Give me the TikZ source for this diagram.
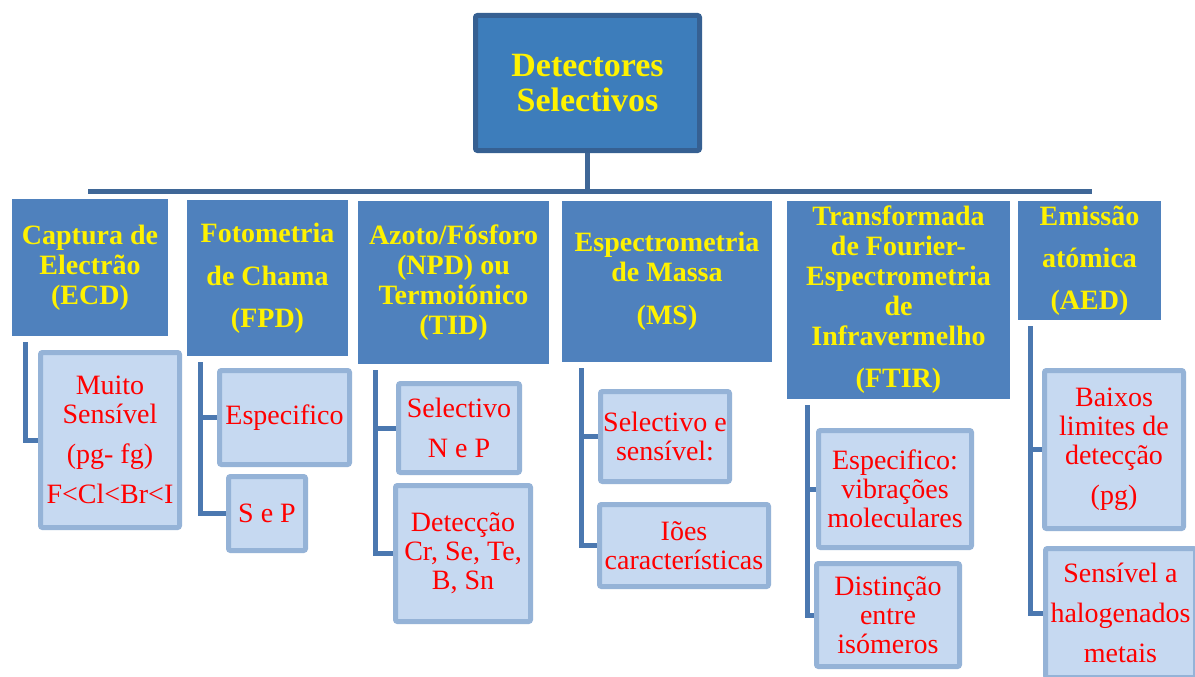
\documentclass[tikz,border=0pt]{standalone}
\usepackage{fontspec}
\setmainfont{Liberation Serif}
\definecolor{topfill}{RGB}{61,125,187}
\definecolor{topborder}{RGB}{54,96,146}
\definecolor{hdrfill}{RGB}{79,129,189}
\definecolor{leaffill}{RGB}{198,217,241}
\definecolor{leafborder}{RGB}{149,179,215}
\definecolor{buscol}{RGB}{63,103,151}
\definecolor{conncol}{RGB}{75,120,176}
\begin{document}
\begin{tikzpicture}[x=1pt,y=-1pt,
 topbox/.style={draw=topborder, line width=5pt, fill=topfill, rounded corners=2pt, text=yellow, font=\fontsize{34}{35}\selectfont\bfseries, align=center, inner sep=0pt},
 hdr/.style={fill=hdrfill, text=yellow, font=\fontsize{28}{30}\selectfont\bfseries, align=center, inner sep=0pt},
 leaf/.style={draw=leafborder, line width=5pt, fill=leaffill, rounded corners=2pt, text=red, font=\fontsize{28}{29}\selectfont, align=center, inner sep=0pt},
 bus/.style={draw=buscol, line width=5pt},
 conn/.style={draw=conncol, line width=5pt},
]
\useasboundingbox (0,0) rectangle (1195,677);
\clip (0,0) rectangle (1195,677);
\fill[white] (0,0) rectangle (1195,677);

% title
\node[topbox, minimum width=224pt, minimum height=135pt] (t) at (587.5,83) {Detectores\\Selectivos};

% bus
\coordinate (busL) at (88,191);
\coordinate (busR) at (1092,191);
\draw[bus] (busL) -- (busR);
\draw[bus] (t.south) -- (t.south |- busL);

% headers
\node[hdr, minimum width=156pt, minimum height=137pt] (h1) at (90,267.5) {Captura de\\Electrão\\(ECD)};
\node[hdr, minimum width=161pt, minimum height=156pt] (h2) at (267.5,278) {Fotometria\\[13pt]de Chama\\[12pt](FPD)};
\node[hdr, minimum width=191pt, minimum height=163pt] (h3) at (453.5,282.5) {Azoto/Fósforo\\(NPD) ou\\Termoiónico\\(TID)};
\node[hdr, minimum width=210pt, minimum height=161pt] (h4) at (667,281.5) {Espectrometria\\de Massa\\[13pt](MS)};
\node[hdr, minimum width=223pt, minimum height=198pt] (h5) at (898.5,300) {Transformada\\de Fourier-\\Espectrometria\\de\\Infravermelho\\[12pt](FTIR)};
\node[hdr, minimum width=143pt, minimum height=119pt] (h6) at (1089.5,260.5) {Emissão\\[12pt]atómica\\[12pt](AED)};

% leaves
\node[leaf, minimum width=139pt, minimum height=175pt] (c11) at (110,440) {Muito\\Sensível\\[11pt](pg- fg)\\[11pt]F<Cl<Br<I};
\node[leaf, minimum width=130pt, minimum height=94pt] (c21) at (284.5,417.5) {Especifico};
\node[leaf, minimum width=77pt, minimum height=74pt] (c22) at (267,513.5) {S e P};
\node[leaf, minimum width=121pt, minimum height=89pt] (c31) at (459,428) {Selectivo\\[11pt]N e P};
\node[leaf, minimum width=135pt, minimum height=136pt] (c32) at (463,553.5) {Detecção\\Cr, Se, Te,\\B, Sn};
\node[leaf, minimum width=129pt, minimum height=90pt] (c41) at (665,436.5) {Selectivo e\\sensível:};
\node[leaf, minimum width=169pt, minimum height=82pt] (c42) at (684,545.5) {Iões\\características};
\node[leaf, minimum width=153pt, minimum height=117pt] (c51) at (895,489) {Especifico:\\vibrações\\moleculares};
\node[leaf, minimum width=143pt, minimum height=103pt] (c52) at (888,615) {Distinção\\entre\\isómeros};
\node[leaf, minimum width=139pt, minimum height=158pt] (c61) at (1114,449.5) {Baixos\\limites de\\detecção\\[11pt](pg)};
\node[leaf, minimum width=150pt, minimum height=129pt] (c62) at (1120.5,613) {Sensível a\\[11pt]halogenados\\[11pt]metais};

% connectors
\coordinate (s1) at (25,342);
\coordinate (s2) at (200,362);
\coordinate (s3) at (375,370);
\coordinate (s4) at (581,368);
\coordinate (s5) at (807,405);
\coordinate (s6) at (1030,326);
\draw[conn] (s1) |- (c11.west);
\draw[conn] (s2) |- (c22.west);
\draw[conn] (s2 |- c21.west) -- (c21.west);
\draw[conn] (s3) |- (c32.west);
\draw[conn] (s3 |- c31.west) -- (c31.west);
\draw[conn] (s4) |- (c42.west);
\draw[conn] (s4 |- c41.west) -- (c41.west);
\draw[conn] (s5) |- (c52.west);
\draw[conn] (s5 |- c51.west) -- (c51.west);
\draw[conn] (s6) |- (c62.west);
\draw[conn] (s6 |- c61.west) -- (c61.west);
\end{tikzpicture}
\end{document}
